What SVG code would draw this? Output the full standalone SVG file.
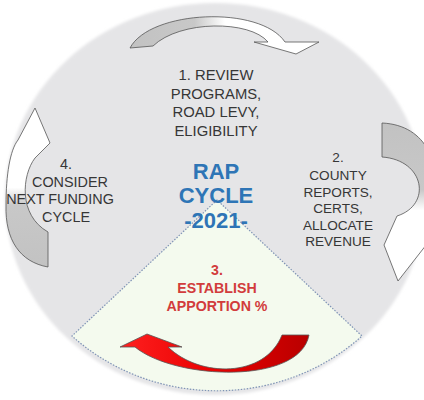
<svg xmlns="http://www.w3.org/2000/svg" width="424" height="400" viewBox="0 0 424 400">
<defs>
<style>
.t{font-family:"Liberation Sans",Arial,sans-serif;text-anchor:middle;fill:#363636}
.b{font-weight:bold}
.arr{stroke:#555;stroke-width:0.8;stroke-linejoin:miter}
</style>
<filter id="soft" x="-5%" y="-5%" width="110%" height="110%"><feGaussianBlur stdDeviation="1.5"/></filter>
<linearGradient id="gTop" gradientUnits="userSpaceOnUse" x1="130" y1="0" x2="320" y2="0">
<stop offset="0" stop-color="#c2c2c2"/><stop offset="0.34" stop-color="#c8c8c8"/><stop offset="0.5" stop-color="#ffffff"/><stop offset="1" stop-color="#ffffff"/>
</linearGradient>
<linearGradient id="gRight" gradientUnits="userSpaceOnUse" x1="0" y1="123" x2="0" y2="282">
<stop offset="0" stop-color="#c2c2c2"/><stop offset="0.42" stop-color="#c8c8c8"/><stop offset="0.55" stop-color="#ffffff"/><stop offset="1" stop-color="#ffffff"/>
</linearGradient>
<linearGradient id="gLeft" gradientUnits="userSpaceOnUse" x1="0" y1="267" x2="0" y2="108">
<stop offset="0" stop-color="#c2c2c2"/><stop offset="0.39" stop-color="#c8c8c8"/><stop offset="0.5" stop-color="#ffffff"/><stop offset="1" stop-color="#ffffff"/>
</linearGradient>
<linearGradient id="gRed" gradientUnits="userSpaceOnUse" x1="120" y1="0" x2="310" y2="0">
<stop offset="0" stop-color="#ff2020"/><stop offset="0.5" stop-color="#e80000"/><stop offset="1" stop-color="#b80000"/>
</linearGradient>
</defs>
<rect width="424" height="400" fill="#ffffff"/>
<g id="cycle-background">
<ellipse cx="215" cy="199" rx="210" ry="196" fill="#e5e5e7" filter="url(#soft)"/>
</g>
<g id="step3-sector">
<path d="M217,200 L72,336 A210,198 0 0 0 362,336 Z" fill="#f4faee" stroke="#7f93b5" stroke-width="1.2" stroke-dasharray="1.5,1.5"/>
</g>
<g id="connectors">
<path id="arrow-1-2" class="arr" fill="url(#gTop)" d="M130,48 C150,10 260,5 285,42 L319,42 L296,54 L254,42 L268,42 C250,20 180,20 153,46 Z"/>
<path id="arrow-2-3" class="arr" fill="url(#gRight)" d="M382,123 C405,124 420,135 428,150 L430,240 L398,281 L384,245 L397,216 C432,205 425,160 382,157 Z"/>
<path id="arrow-3-4" class="arr" fill="url(#gRed)" stroke="#5a0000" d="M309,335 C300,385 175,380 135,347 L120,347 L147,334 L182,347 L168,347 C200,378 265,378 282,335 Z"/>
<path id="arrow-4-1" class="arr" fill="url(#gLeft)" d="M48,267 C20,262 5,240 6,205 C6,175 10,150 18,140 L35,108 L50,143 L35,158 C22,175 18,215 48,232 Z"/>
</g>
<g id="step1">
<text class="t" x="216" y="80" font-size="14.8">1. REVIEW</text>
<text class="t" x="216" y="98.5" font-size="14.8">PROGRAMS,</text>
<text class="t" x="216" y="117" font-size="14.8">ROAD LEVY,</text>
<text class="t" x="216" y="135.5" font-size="14.8">ELIGIBILITY</text>
</g>
<g id="step2">
<text class="t" x="338" y="162" font-size="13.6">2.</text>
<text class="t" x="338" y="180" font-size="13.6">COUNTY</text>
<text class="t" x="338" y="197" font-size="13.6">REPORTS,</text>
<text class="t" x="338" y="213" font-size="13.6">CERTS,</text>
<text class="t" x="338" y="230" font-size="13.6">ALLOCATE</text>
<text class="t" x="338" y="246" font-size="13.6">REVENUE</text>
</g>
<g id="step3">
<text class="t b" x="217" y="275" font-size="14.2" style="fill:#d23c3c">3.</text>
<text class="t b" x="217" y="293" font-size="14.2" style="fill:#d23c3c">ESTABLISH</text>
<text class="t b" x="217" y="311" font-size="14.2" style="fill:#d23c3c">APPORTION %</text>
</g>
<g id="step4">
<text class="t" x="66" y="169" font-size="14.4">4.</text>
<text class="t" x="70" y="187" font-size="14.4">CONSIDER</text>
<text class="t" x="60" y="204" font-size="14.4">NEXT FUNDING</text>
<text class="t" x="66" y="222" font-size="14.4">CYCLE</text>
</g>
<g id="center-title">
<text class="t b" x="216" y="179" font-size="22" style="fill:#2e75b6">RAP</text>
<text class="t b" x="216" y="203" font-size="22" style="fill:#2e75b6">CYCLE</text>
<text class="t b" x="216" y="228" font-size="22" style="fill:#2e75b6">-2021-</text>
</g>
</svg>
